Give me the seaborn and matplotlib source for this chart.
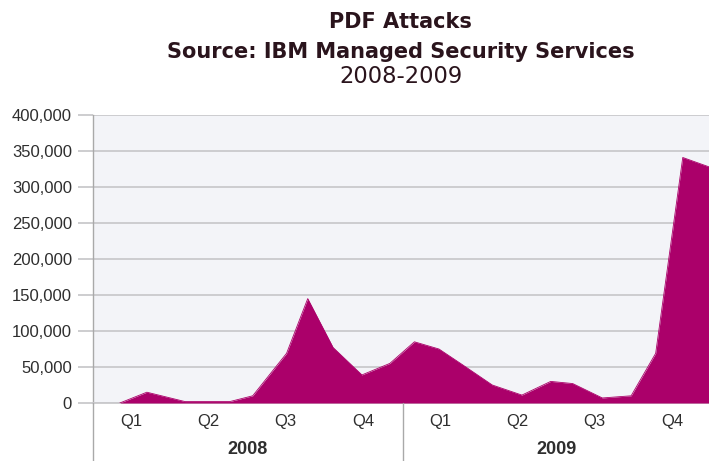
import matplotlib
matplotlib.use("Agg")
import matplotlib.pyplot as plt
import matplotlib.transforms as mtransforms
from matplotlib.ticker import FuncFormatter
import seaborn as sns
import pandas as pd

# Monthly PDF attack counts observed by IBM MSS
dates = ["2008-02-02", "2008-03-05", "2008-04-19", "2008-06-11", "2008-07-08",
         "2008-08-17", "2008-09-11", "2008-10-11", "2008-11-14", "2008-12-17",
         "2009-01-15", "2009-02-13", "2009-03-13", "2009-04-17", "2009-05-22",
         "2009-06-25", "2009-07-21", "2009-08-25", "2009-09-28", "2009-10-27",
         "2009-11-28", "2009-12-29"]
attacks = [0, 15000, 2000, 2000, 10000,
           69000, 145000, 77000, 39000, 55000,
           85000, 75000, 53000, 25000, 11000,
           30000, 27000, 7000, 10000, 69000,
           341000, 328000]
years = ["2008", "2009"]
quarters = ["Q1", "Q2", "Q3", "Q4"]
y_ticks = [0, 50000, 100000, 150000, 200000, 250000, 300000, 350000, 400000]

title_lines = ["PDF Attacks", "Source: IBM Managed Security Services", "2008-2009"]

FILL = "#AB006A"
GRID = "#c9c9cc"
AXIS = "#a9a9a9"
TEXT = "#2e2e2e"
TITLE = "#2a141c"

sns.set_style("white", {"axes.facecolor": "#F3F4F8"})
plt.rcParams["font.family"] = ["Liberation Sans", "DejaVu Sans"]

df = pd.DataFrame({"date": pd.to_datetime(dates), "attacks": attacks})

W, H = 709, 461
fig = plt.figure(figsize=(W / 100, H / 100), dpi=100)
left_px, right_px, top_px, bottom_px = 92.7, 709, 115, 403
ax = fig.add_axes([left_px / W, 1 - bottom_px / H,
                   (right_px - left_px) / W, (bottom_px - top_px) / H])

ax.fill_between(df["date"], df["attacks"], color=FILL, lw=0, zorder=3)
sns.lineplot(data=df, x="date", y="attacks", ax=ax, color=FILL, lw=0.6, zorder=4)

x0 = pd.Timestamp(f"{years[0]}-01-01")
x1 = pd.Timestamp(dates[-1])
ax.set_xlim(x0, x1)
ax.set_ylim(0, 400000)

# y axis: grid lines that run out past the axis as ticks
ax.set_yticks(y_ticks)
ax.yaxis.set_major_formatter(FuncFormatter(lambda v, _: f"{int(v):,}"))
ax.yaxis.grid(True, color=GRID, lw=1.3, zorder=1)
ax.set_axisbelow(True)
ax.tick_params(axis="y", length=11, width=1.3, color=GRID, pad=4,
               labelsize=12, labelcolor=TEXT, left=True)

# x axis: quarter labels centred in each quarter, short ticks at boundaries
bounds = []
centers = []
labels = []
for y in years:
    starts = [pd.Timestamp(f"{y}-{m:02d}-01") for m in (1, 4, 7, 10)]
    ends = starts[1:] + [pd.Timestamp(f"{int(y) + 1}-01-01")]
    for q, s, e in zip(quarters, starts, ends):
        bounds.append(s)
        centers.append(s + (e - s) / 2)
        labels.append(q)
ax.set_xticks(centers)
ax.set_xticklabels(labels)
ax.tick_params(axis="x", length=0, pad=8, labelsize=12, labelcolor=TEXT)
ax.set_xticks([b for b in bounds if b.month != 1], minor=True)
ax.tick_params(axis="x", which="minor", length=10, width=1.0, color=AXIS,
               direction="out")
ax.set_xlabel("")
ax.set_ylabel("")

for side in ("top", "right"):
    ax.spines[side].set_visible(False)
ax.spines["bottom"].set_color(GRID)
ax.spines["bottom"].set_linewidth(1.3)
ax.spines["left"].set_color(AXIS)
ax.spines["left"].set_linewidth(1.0)

# year separators running down through the label band
blend = mtransforms.blended_transform_factory(ax.transData, ax.transAxes)
drop = -(H - bottom_px) / (bottom_px - top_px)
for y in years:
    xs = pd.Timestamp(f"{y}-01-01")
    ax.plot([xs, xs], [0, drop], transform=blend, clip_on=False,
            color=AXIS, lw=1.0, zorder=5)
    mid = pd.Timestamp(f"{y}-07-02")
    ax.text(mid, -(449 - bottom_px) / (bottom_px - top_px), y, transform=blend,
            ha="center", va="center", fontsize=13, fontweight="bold", color=TEXT)

# three-line heading centred over the plot
cx = (left_px + right_px) / 2 / W
head_font = ["DejaVu Sans"]
fig.text(cx, 1 - 27.5 / H, title_lines[0], ha="center", va="baseline",
         fontsize=15, fontweight="bold", color=TITLE, family=head_font)
fig.text(cx, 1 - 57.5 / H, title_lines[1], ha="center", va="baseline",
         fontsize=15, fontweight="bold", color=TITLE, family=head_font)
fig.text(cx, 1 - 83 / H, title_lines[2], ha="center", va="baseline",
         fontsize=16.3, color=TITLE, family=head_font)

fig.savefig("out.png", dpi=100, facecolor="white")
